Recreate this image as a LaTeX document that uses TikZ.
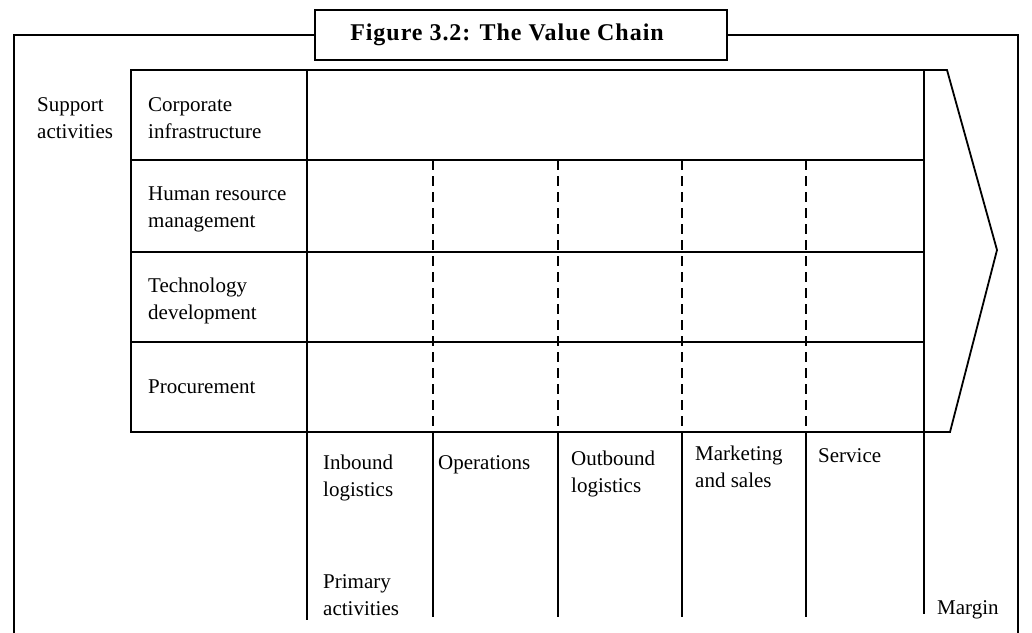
\documentclass[tikz,border=0pt]{standalone}
\usepackage{fontspec}
\setmainfont{Liberation Serif}
\usetikzlibrary{calc}
\tikzset{
	frame/.style={line width=2.8pt},
	grid/.style={line width=1.8pt},
	cut/.style={line width=1.6pt, dash pattern=on 10pt off 6pt},
	lbl/.style={anchor=north west, inner sep=0pt, align=left, font=\fontsize{21}{27}\selectfont},
	ttl/.style={draw, line width=2.8pt, minimum width=412pt, minimum height=50pt, inner sep=0pt, font=\bfseries\fontsize{24}{27}\selectfont\addfontfeature{LetterSpace=4}}
}

\begin{document}
\begin{tikzpicture}[x=1pt, y=-1pt]
	\useasboundingbox (0,0) rectangle (1032,632);

	% outer frame and title box
	\node[ttl] (title) at (521,35) {Figure 3.2: The Value Chain\hspace*{28pt}};
	\coordinate (fl) at (14,640);
	\coordinate (fr) at (1018,640);
	\draw[frame] (fl) |- (title.west);
	\draw[frame] (title.east) -| (fr);

	% the chain
	\foreach \n/\y in {0/70, 1/160, 2/252, 3/342, 4/432}{
		\coordinate (l\n) at (131,\y);
		\coordinate (d\n) at (307,\y);
		\coordinate (m\n) at (924,\y);
	}
	\coordinate (a1) at (947,70);
	\coordinate (tip) at (997,250);
	\coordinate (a2) at (950,432);
	\coordinate (pb) at (307,620);
	\coordinate (mb) at (924,614);
	\draw[grid, line join=miter] (l0) -- (a1) -- (tip) -- (a2) -- (l4) -- cycle;
	\draw[grid] (d0) -- (pb);
	\draw[grid] (m0) -- (mb);
	\foreach \n in {1,2,3}
		\draw[grid] (l\n) -- (m\n);
	\foreach \x [count=\i] in {433,558,682,806}{
		\coordinate (s\i) at (\x,160);
		\coordinate (e\i) at (\x,432);
		\coordinate (f\i) at (\x,617);
		\draw[cut] (s\i) -- (e\i);
		\draw[grid] (e\i) -- (f\i);
	}

	% support activities
	\node[lbl] (sup) at (37,97) {Support\\activities};
	\node[lbl] (corp) at (148,97) {Corporate\\infrastructure};
	\node[lbl] (hrm) at (148,187) {Human resource\\management};
	\node[lbl] (tech) at (148,278) {Technology\\development};
	\node[lbl] (proc) at (148,380) {Procurement};

	% primary activities
	\node[lbl] (inb) at (323,455) {Inbound\\logistics};
	\node[lbl] (ops) at (438,455) {Operations};
	\node[lbl] (outb) at (571,451) {Outbound\\logistics};
	\node[lbl] (mkt) at (695,446) {Marketing\\and sales};
	\node[lbl] (serv) at (818,448) {Service};
	\node[lbl] (prim) at (323,574) {Primary\\activities};
	\node[lbl] (marg) at (937,600) {Margin};
\end{tikzpicture}
\end{document}
